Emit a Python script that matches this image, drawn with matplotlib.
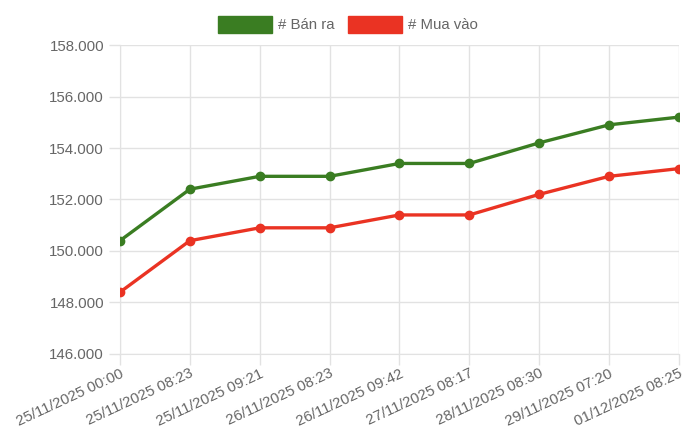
import matplotlib.pyplot as plt
from matplotlib.patches import Patch
from matplotlib.ticker import FuncFormatter

plt.rcParams['font.family'] = ['Liberation Sans', 'DejaVu Sans']

labels = ["25/11/2025 00:00", "25/11/2025 08:23", "25/11/2025 09:21",
          "26/11/2025 08:23", "26/11/2025 09:42", "27/11/2025 08:17",
          "28/11/2025 08:30", "29/11/2025 07:20", "01/12/2025 08:25"]
ban_ra = [150400, 152400, 152900, 152900, 153400, 153400, 154200, 154900, 155200]
mua_vao = [148400, 150400, 150900, 150900, 151400, 151400, 152200, 152900, 153200]

green = "#3a7d22"
red = "#ea3323"
grid_c = "#e2e2e2"
text_c = "#666666"

fig = plt.figure(figsize=(7, 4.4), dpi=100)
ax = fig.add_axes([0.1714, 0.1955, 0.7986, 0.7022])

x = list(range(len(labels)))
ax.plot(x, ban_ra, color=green, lw=2.4, marker="o", ms=6, zorder=3)
ax.plot(x, mua_vao, color=red, lw=2.4, marker="o", ms=6, zorder=3)

ax.set_xlim(0, len(labels) - 1)
ax.set_ylim(146000, 158000)
ax.set_yticks(range(146000, 158001, 2000))
ax.yaxis.set_major_formatter(FuncFormatter(lambda v, p: f"{v:,.0f}".replace(",", ".")))
ax.set_xticks(x)
ax.set_xticklabels(labels, rotation=25, ha="right", rotation_mode="anchor")

ax.grid(True, color=grid_c, lw=1)
ax.set_axisbelow(True)
for s in ax.spines.values():
    s.set_visible(False)
ax.spines["left"].set_visible(True)
ax.spines["left"].set_color(grid_c)
ax.spines["bottom"].set_visible(True)
ax.spines["bottom"].set_color(grid_c)
ax.tick_params(axis="both", colors=grid_c, labelcolor=text_c, labelsize=10.8, length=8, width=1)
ax.tick_params(axis="x", pad=1)

handles = [Patch(facecolor=green, edgecolor=green, label="# Bán ra"),
           Patch(facecolor=red, edgecolor=red, label="# Mua vào")]
fig.legend(handles=handles, loc="upper center", bbox_to_anchor=(0.497, 0.995), ncol=2,
           frameon=False, handlelength=3.6, handleheight=1.4, handletextpad=0.4,
           columnspacing=0.9, fontsize=10.8, labelcolor=text_c)

fig.savefig("out.png", dpi=100)
